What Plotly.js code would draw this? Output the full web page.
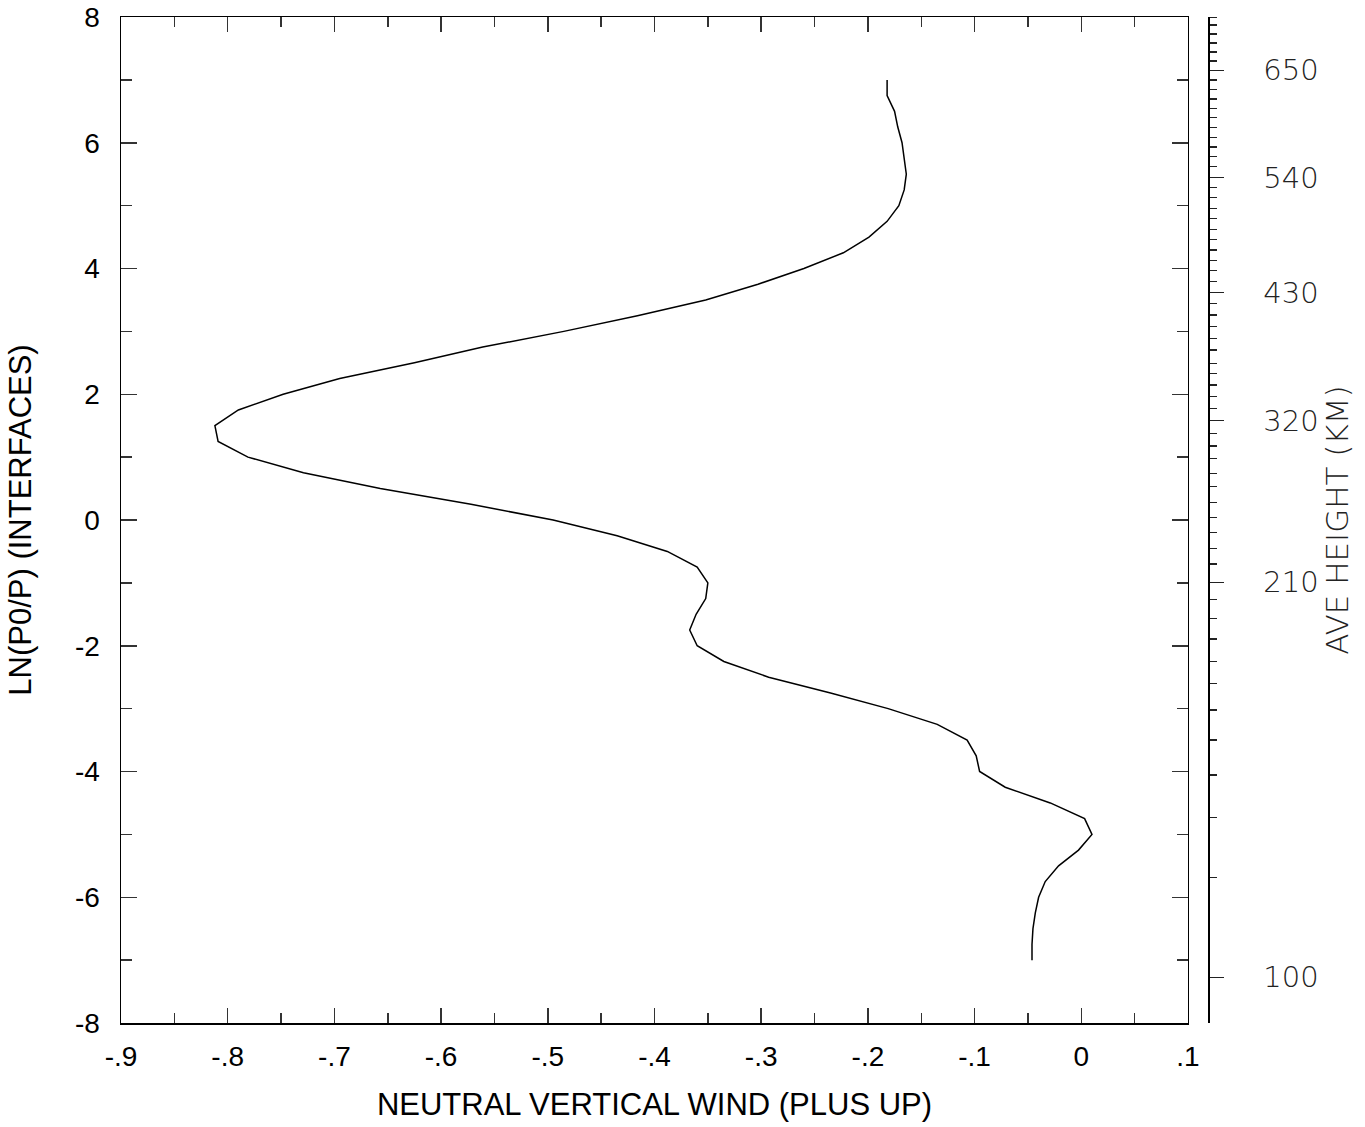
<!DOCTYPE html>
<html>
<head>
<meta charset="utf-8">
<script src="https://cdn.plot.ly/plotly-3.0.1.min.js"></script>
<style>
  html, body { margin: 0; padding: 0; background: #fff; }
  #chart { width: 1365px; height: 1127px; }
</style>
</head>
<body>
<div id="chart"></div>
<script>
// Level (ln(P0/P), interfaces)
const lnLevels = [7, 6.75, 6.5, 6.25, 6, 5.75, 5.5, 5.25, 5, 4.75, 4.5, 4.25, 4, 3.75, 3.5, 3.25, 3, 2.75, 2.5, 2.25, 2, 1.75, 1.5, 1.25, 1, 0.75, 0.5, 0.25, 0, -0.25, -0.5, -0.75, -1, -1.25, -1.5, -1.75, -2, -2.25, -2.5, -2.75, -3, -3.25, -3.5, -3.75, -4, -4.25, -4.5, -4.75, -5, -5.25, -5.5, -5.75, -6, -6.25, -6.5, -6.75, -7];
// Neutral vertical wind (plus up)
const windValues = [-0.182, -0.182, -0.175, -0.172, -0.168, -0.166, -0.164, -0.166, -0.171, -0.182, -0.199, -0.223, -0.260, -0.303, -0.352, -0.416, -0.485, -0.561, -0.625, -0.695, -0.748, -0.790, -0.812, -0.809, -0.781, -0.729, -0.657, -0.572, -0.495, -0.435, -0.388, -0.360, -0.350, -0.352, -0.361, -0.367, -0.360, -0.335, -0.293, -0.235, -0.181, -0.135, -0.107, -0.0985, -0.0953, -0.0713, -0.0291, 0.0031, 0.0100, -0.0026, -0.0213, -0.0338, -0.040, -0.0431, -0.0453, -0.0462, -0.0462];

// Bottom axis ticks
const xTickVals = [-0.9, -0.8, -0.7, -0.6, -0.5, -0.4, -0.3, -0.2, -0.1, 0, 0.1];
const xTickText = ['-.9', '-.8', '-.7', '-.6', '-.5', '-.4', '-.3', '-.2', '-.1', '0', '.1'];
const xMinorVals = [-0.85, -0.75, -0.65, -0.55, -0.45, -0.35, -0.25, -0.15, -0.05, 0.05];
// Left axis ticks
const yTickVals = [-8, -6, -4, -2, 0, 2, 4, 6, 8];
const yTickText = ['-8', '-6', '-4', '-2', '0', '2', '4', '6', '8'];
const yMinorVals = [-7, -5, -3, -1, 1, 3, 5, 7];
// Right axis: average height (km) labels and their ln(P0/P) positions
const heightLabels = ['100', '210', '320', '430', '540', '650'];
const heightLabelPos = [-7.273, -0.991, 1.579, 3.615, 5.444, 7.152];
// Right axis minor ticks: every 10 km from 100 to 710 km (positions in ln(P0/P))
const heightMinorPos = [-7.273, -5.683, -4.735, -4.056, -3.499, -3.022, -2.597, -2.254, -1.893, -1.563, -1.261,
  -0.991, -0.700, -0.450, -0.202, 0.037, 0.282, 0.530, 0.743, 0.981, 1.177, 1.379,
  1.579, 1.777, 1.961, 2.147, 2.333, 2.492, 2.704, 2.890, 3.074, 3.260, 3.447,
  3.615, 3.790, 3.965, 4.124, 4.294, 4.464, 4.623, 4.792, 4.958, 5.126, 5.292,
  5.444, 5.619, 5.778, 5.932, 6.087, 6.240, 6.398, 6.548, 6.696, 6.850, 6.998,
  7.152, 7.300, 7.443, 7.586, 7.730, 7.873, 7.995];

const FONT = 'Liberation Sans, Arial, sans-serif';
const THIN = 'DejaVu Sans, sans-serif';

const trace = {
  x: windValues,
  y: lnLevels,
  type: 'scatter',
  mode: 'lines',
  line: { color: '#000', width: 1.5 },
  hoverinfo: 'skip',
  showlegend: false
};

const layout = {
  width: 1365,
  height: 1127,
  margin: { l: 121, r: 157, t: 17, b: 104 },
  paper_bgcolor: '#fff',
  plot_bgcolor: '#fff',
  showlegend: false,
  xaxis: {
    domain: [0, 0.9816],
    range: [-0.9, 0.1],
    tickmode: 'array',
    tickvals: xTickVals,
    ticktext: xTickText,
    ticks: 'inside',
    ticklen: 15,
    tickwidth: 1.5,
    tickcolor: '#333',
    minor: { tickmode: 'array', tickvals: xMinorVals, ticks: 'inside', ticklen: 10, tickwidth: 1.5, tickcolor: '#333', showgrid: false },
    showline: true,
    linecolor: '#000',
    linewidth: 1.5,
    mirror: 'ticks',
    showgrid: false,
    zeroline: false,
    ticklabelstandoff: 8,
    tickfont: { family: FONT, size: 28, color: '#000' },
    title: { text: 'NEUTRAL VERTICAL WIND (PLUS UP)', font: { family: FONT, size: 31, color: '#000' }, standoff: 22 }
  },
  yaxis: {
    range: [-8, 8],
    tickmode: 'array',
    tickvals: yTickVals,
    ticktext: yTickText,
    ticks: 'inside',
    ticklen: 16,
    tickwidth: 1.5,
    tickcolor: '#333',
    minor: { tickmode: 'array', tickvals: yMinorVals, ticks: 'inside', ticklen: 11, tickwidth: 1.5, tickcolor: '#333', showgrid: false },
    showline: true,
    linecolor: '#000',
    linewidth: 1.5,
    mirror: 'ticks',
    showgrid: false,
    zeroline: false,
    ticklabelstandoff: 14,
    tickfont: { family: FONT, size: 28, color: '#000' },
    title: { text: 'LN(P0/P) (INTERFACES)', font: { family: FONT, size: 31, color: '#000' }, standoff: 34 }
  },
  yaxis2: {
    overlaying: 'y',
    anchor: 'free',
    position: 1,
    side: 'right',
    range: [-8, 8],
    tickmode: 'array',
    tickvals: heightLabelPos,
    ticktext: heightLabels,
    ticks: 'outside',
    ticklen: 14,
    tickwidth: 1.5,
    tickcolor: '#222',
    minor: { tickmode: 'array', tickvals: heightMinorPos, ticks: 'outside', ticklen: 7, tickwidth: 1.5, tickcolor: '#222', showgrid: false },
    showline: true,
    linecolor: '#000',
    linewidth: 1.5,
    showgrid: false,
    zeroline: false,
    ticklabelstandoff: 34,
    tickfont: { family: THIN, size: 29, color: '#222', weight: 200 },
    title: { text: 'AVE HEIGHT (KM)', font: { family: THIN, size: 31, color: '#222', weight: 200 }, standoff: 2 }
  }
};

// empty trace that switches on the right-hand height axis
const axisTrace = { x: [null], y: [null], yaxis: 'y2', type: 'scatter', mode: 'lines', hoverinfo: 'skip', showlegend: false };

Plotly.newPlot('chart', [trace, axisTrace], layout, { displayModeBar: false, staticPlot: true });
</script>
</body>
</html>
